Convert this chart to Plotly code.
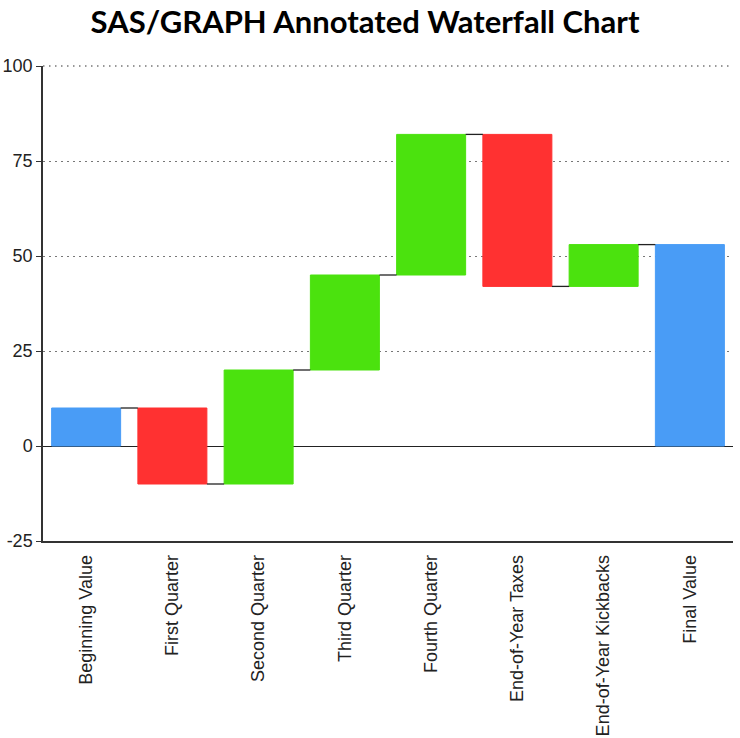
import plotly.graph_objects as go

categories = ["Beginning Value", "First Quarter", "Second Quarter", "Third Quarter",
              "Fourth Quarter", "End-of-Year Taxes", "End-of-Year Kickbacks", "Final Value"]
changes = [10, -20, 30, 25, 37, -40, 11]   # step values (first is starting value)
y_ticks = [-25, 0, 25, 50, 75, 100]

BLUE = "#499cf6"
RED = "#ff3131"
GREEN = "#4be20e"

# compute bases / heights for the waterfall
bases, heights, colors = [], [], []
running = 0
levels = []
for i, c in enumerate(changes):
    bases.append(running if i > 0 else 0)
    heights.append(c)
    colors.append(BLUE if i == 0 else (GREEN if c >= 0 else RED))
    running += c
    levels.append(running)
bases.append(0)
heights.append(running)
colors.append(BLUE)

xs = list(range(len(categories)))
bar_w = 0.8

fig = go.Figure()
fig.add_trace(go.Bar(
    x=xs, y=heights, base=bases, width=bar_w,
    marker=dict(color=colors, line=dict(color=colors, width=1)),
    hoverinfo="skip", showlegend=False,
))

# connectors between bars
for i, lv in enumerate(levels):
    fig.add_trace(go.Scatter(
        x=[i + bar_w / 2, i + 1 - bar_w / 2], y=[lv, lv], mode="lines",
        line=dict(color="#222222", width=1.3), hoverinfo="skip", showlegend=False,
    ))

GRID_COLOR = "#777777"
GRID_DASH = "1.5px,4.5px"

# top gridline (at the upper range edge)
fig.add_shape(type="line", xref="paper", yref="paper", x0=0, x1=1, y0=1, y1=1,
              line=dict(color=GRID_COLOR, width=1.3, dash=GRID_DASH), layer="below")

W, H = 740, 738
fig.update_layout(
    width=W, height=H,
    paper_bgcolor="white", plot_bgcolor="white",
    margin=dict(l=43, r=7, t=66, b=197, autoexpand=False),
    title=dict(text="<b>SAS/GRAPH Annotated Waterfall Chart</b>", x=365 / W, xanchor="center",
               y=1 - 22 / H, yanchor="middle", yref="container",
               font=dict(family="Lato", size=31, color="black")),
    font=dict(family="Liberation Sans, Arial, sans-serif", size=17, color="#222222"),
)
fig.update_xaxes(
    range=[-0.5, len(categories) - 0.5], tickmode="array", tickvals=xs, ticktext=categories,
    tickangle=-90, showgrid=False, zeroline=False, showline=True, linecolor="#333333",
    linewidth=1.5, ticks="", ticklabelstandoff=5, tickfont=dict(size=18),
)
fig.update_yaxes(
    range=[-25, 100], tickmode="array", tickvals=y_ticks, ticktext=[str(v) for v in y_ticks],
    showgrid=True, gridcolor=GRID_COLOR, griddash=GRID_DASH, gridwidth=1.3,
    zeroline=True, zerolinecolor="#222222", zerolinewidth=1.3,
    showline=True, linecolor="#333333", linewidth=1.5, ticks="outside", ticklen=5,
    tickcolor="#333333", layer="below traces", tickfont=dict(size=18),
)

fig.write_html("out.html", config={"displayModeBar": False},
               post_script="document.body.style.margin='0';")
